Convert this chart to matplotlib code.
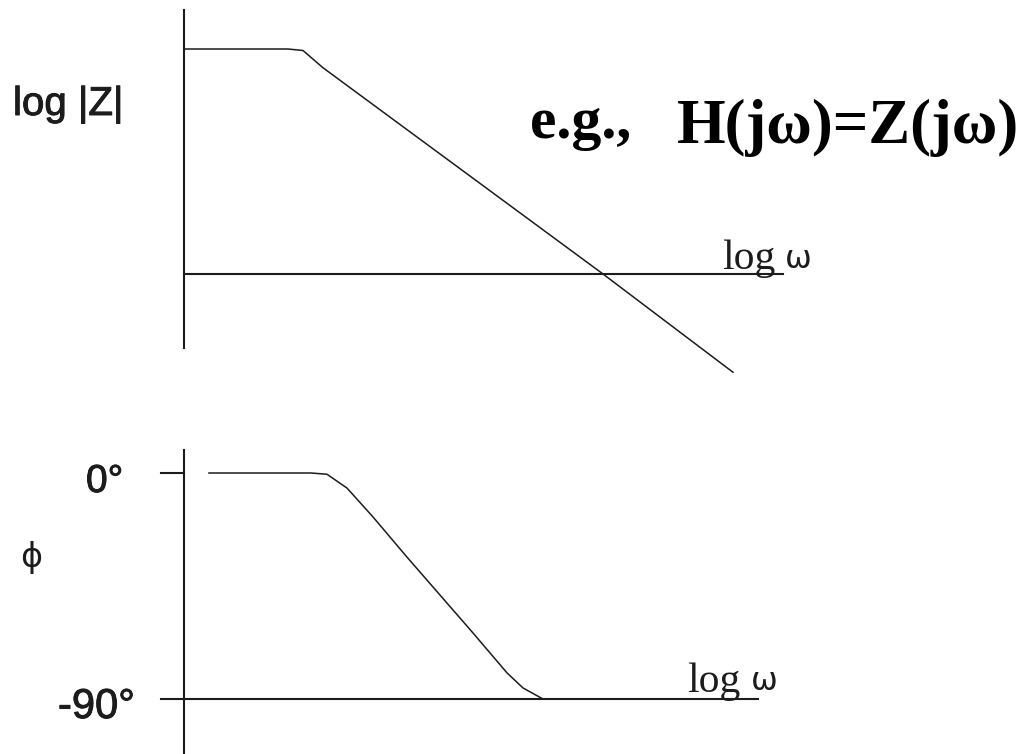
import matplotlib

matplotlib.use("Agg", force=True)
import matplotlib.pyplot as plt
import matplotlib.patheffects as pe
import numpy as np

# Magnitude sketch: log|Z| against log(omega), in decades
MAG_LOGW = [0.0, 1.04, 1.19, 1.39, 1.96, 4.19, 5.49]
MAG_LOGZ = [3.0, 3.0, 2.98, 2.75, 2.19, 0.0, -1.31]

# Phase sketch: phi in degrees against log(omega)
PHASE_LOGW = [0.25, 1.27, 1.43, 1.63, 1.89, 2.23, 2.56, 2.89, 3.23, 3.39, 3.59, 5.74]
PHASE_DEG = [0.0, 0.0, -0.5, -6.0, -17.5, -33.5, -48.6, -63.7, -79.6, -85.6, -90.0, -90.0]

INK = "#1c1c1c"
W, H = 1021, 754
X0, XSCALE = 184, 100.0        # px of log(omega)=0, px per decade
ZBASE, ZSCALE = 274, 75.0      # px of log|Z|=0, px per unit
PBASE, PSCALE = 473, 226 / 90  # px of 0 deg, px per degree
SPLIT = 420                    # px row between the two panels

# slightly heavier sans labels
heavy = [pe.withStroke(linewidth=0.7, foreground=INK)]


def px_x(px):
    return (px - X0) / XSCALE


fig = plt.figure(figsize=(W / 100, H / 100), dpi=100)
fig.patch.set_facecolor("white")

# ---- magnitude panel
ax1 = fig.add_axes([0, 1 - SPLIT / H, 1, SPLIT / H])
ax1.set_xlim(px_x(0), px_x(W))
ax1.set_ylim((ZBASE - SPLIT) / ZSCALE, ZBASE / ZSCALE)
ax1.axis("off")

ax1.plot([0, 0], [(ZBASE - 10) / ZSCALE, (ZBASE - 348) / ZSCALE], color=INK, lw=1.5)
ax1.plot([0, px_x(783)], [0, 0], color=INK, lw=1.5)
ax1.plot(MAG_LOGW, MAG_LOGZ, color=INK, lw=1.1)

ax1.text(px_x(13), (ZBASE - 115) / ZSCALE, "log |Z|", family="Liberation Sans",
         fontsize=29, ha="left", va="baseline", color=INK, path_effects=heavy)
ax1.text(px_x(722), (ZBASE - 269) / ZSCALE, "log", family="Liberation Serif",
         fontsize=30, ha="left", va="baseline", color=INK)
ax1.text(px_x(785), (ZBASE - 268) / ZSCALE, "ω", family="DejaVu Sans",
         fontsize=23, ha="left", va="baseline", color=INK)
ax1.text(px_x(530), (ZBASE - 138) / ZSCALE, "e.g.,", family="Liberation Serif",
         fontweight="bold", fontsize=43, ha="left", va="baseline", color="black")
ax1.text(px_x(677), (ZBASE - 143) / ZSCALE, "H(jω)=Z(jω)", family="Liberation Serif",
         fontweight="bold", fontsize=45, ha="left", va="baseline", color="black")

# ---- phase panel
ax2 = fig.add_axes([0, 0, 1, (H - SPLIT) / H])
ax2.set_xlim(px_x(0), px_x(W))
ax2.set_ylim(-(H - PBASE) / PSCALE, (PBASE - SPLIT) / PSCALE)
ax2.axis("off")

ax2.plot([0, 0], [(PBASE - 450) / PSCALE, -(H - PBASE) / PSCALE], color=INK, lw=1.5)
ax2.plot([px_x(161), 0], [0, 0], color=INK, lw=1.5)
ax2.plot([px_x(161), px_x(758)], [-90, -90], color=INK, lw=1.5)
ax2.plot(PHASE_LOGW, PHASE_DEG, color=INK, lw=1.1)

ax2.text(px_x(86), -(492 - PBASE) / PSCALE, "0°", family="Liberation Sans",
         fontsize=28, ha="left", va="baseline", color=INK, path_effects=heavy)
ax2.text(px_x(58), -(718 - PBASE) / PSCALE, "-90°", family="Liberation Sans",
         fontsize=30, ha="left", va="baseline", color=INK, path_effects=heavy)
ax2.text(px_x(31), -(557 - PBASE) / PSCALE, "ϕ", family="DejaVu Sans",
         fontsize=24, ha="center", va="center", color=INK)
ax2.text(px_x(687), -(692 - PBASE) / PSCALE, "log", family="Liberation Serif",
         fontsize=30, ha="left", va="baseline", color=INK)
ax2.text(px_x(751), -(690 - PBASE) / PSCALE, "ω", family="DejaVu Sans",
         fontsize=23, ha="left", va="baseline", color=INK)

fig.savefig("out.png", dpi=100, facecolor="white")
plt.close(fig)
